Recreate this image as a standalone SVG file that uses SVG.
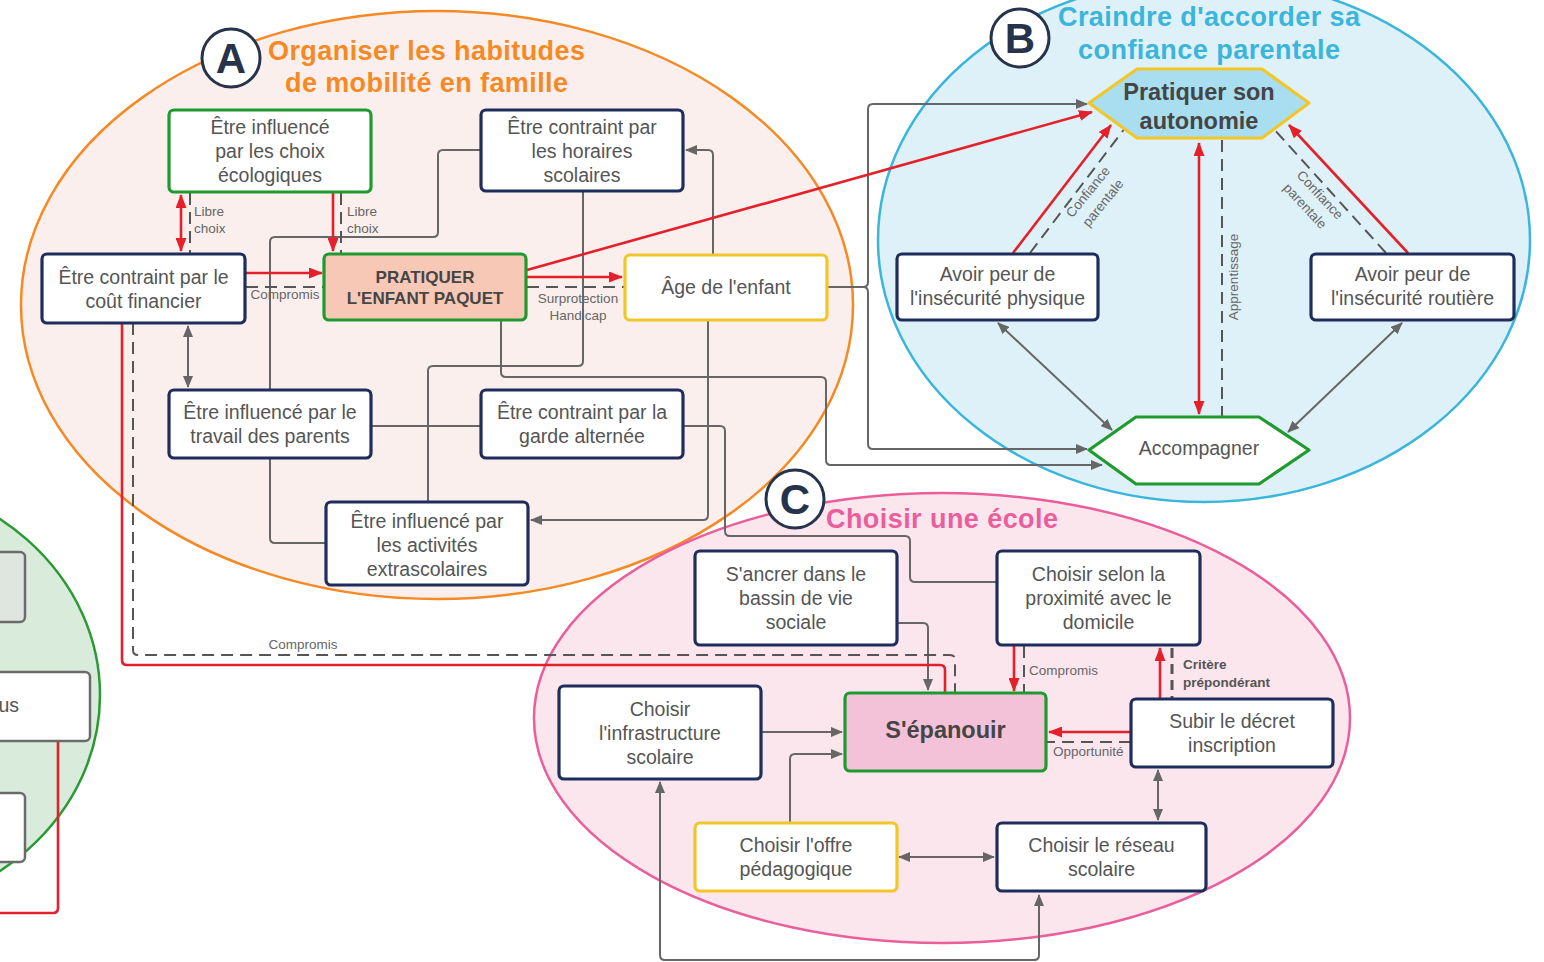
<svg xmlns="http://www.w3.org/2000/svg" width="1544" height="962" viewBox="0 0 1544 962">
<style>
.t{font-family:"Liberation Sans",Arial,sans-serif;font-size:19.5px;fill:#555;text-anchor:middle}
.hb{font-family:"Liberation Sans",Arial,sans-serif;font-weight:bold;fill:#454545;text-anchor:middle}
.ttl{font-family:"Liberation Sans",Arial,sans-serif;font-weight:bold;font-size:27px}
.let{font-family:"Liberation Sans",Arial,sans-serif;font-weight:bold;font-size:42px;fill:#27334a;text-anchor:middle}
.lbl{font-family:"Liberation Sans",Arial,sans-serif;font-size:13.5px;fill:#666}
.box{stroke-width:3.2;fill:#fff}
.navy{stroke:#1f2d5c}
.green{stroke:#1e9a2e}
.yellow{stroke:#f2c629}
.gbox{stroke:#6b6b6b;stroke-width:2.5}
.red{stroke:#e4212b;stroke-width:2.6;fill:none}
.gray{stroke:#666;stroke-width:2;fill:none;stroke-linejoin:round}
.dash{stroke:#555;stroke-width:2;fill:none;stroke-dasharray:12 7}
.circ{fill:#fff;stroke:#27334a;stroke-width:3}
</style>
<defs>
<marker id="mg" viewBox="0 0 12 10" refX="11" refY="5" markerWidth="12" markerHeight="10" markerUnits="userSpaceOnUse" orient="auto-start-reverse"><path d="M0,0L12,5L0,10z" fill="#666"/></marker>
<marker id="mr" viewBox="0 0 14 11" refX="13" refY="5.5" markerWidth="14" markerHeight="11" markerUnits="userSpaceOnUse" orient="auto-start-reverse"><path d="M0,0L14,5.5L0,11z" fill="#e4212b"/></marker>
</defs>
<rect x="0" y="0" width="1544" height="962" fill="#fff"/>

<g id="regions">
<ellipse cx="-150" cy="695" rx="250" ry="220" fill="#d9ecdb" stroke="#2a9a35" stroke-width="2.5"/>
<ellipse cx="437" cy="305" rx="416" ry="294" fill="#fbefed" stroke="#f58a25" stroke-width="2.5"/>
<ellipse cx="942" cy="718" rx="408" ry="225" fill="#fce6ee" stroke="#ea5f9b" stroke-width="2.5"/>
<ellipse cx="1204" cy="240" rx="326" ry="262" fill="#dff1f8" stroke="#3ab5dc" stroke-width="2.5"/>
</g>

<g id="left-partial">
<rect x="-20" y="552" width="45" height="70" rx="5" fill="#dfe6df" class="gbox"/>
<rect x="-20" y="672" width="110" height="69" rx="5" fill="#fff" class="gbox"/>
<text class="t" x="19" y="712" style="text-anchor:end">us</text>
<rect x="-20" y="793" width="45" height="69" rx="5" fill="#fff" class="gbox"/>
<path class="red" d="M58,742 V908 Q58,913 53,913 H-5"/>
</g>

<g id="connectors">
<!-- gray -->
<path class="gray" d="M188,326 V387" marker-start="url(#mg)" marker-end="url(#mg)"/>
<path class="gray" d="M828,287 H863 Q868,287 868,282 V109 Q868,104 873,104 H1087" marker-end="url(#mg)"/>
<path class="gray" d="M863,287 Q868,287 868,292 V444 Q868,449 873,449 H1087" marker-end="url(#mg)"/>
<path class="gray" d="M501,320 V372 Q501,377 506,377 H821 Q826,377 826,382 V460 Q826,465 831,465 H1102" marker-end="url(#mg)"/>
<path class="gray" d="M481,150 H443 Q438,150 438,155 V232 Q438,237 433,237 H275 Q270,237 270,242 V390"/>
<path class="gray" d="M270,458 V538 Q270,543 275,543 H326"/>
<path class="gray" d="M583,191 V361 Q583,366 578,366 H433 Q428,366 428,371 V502"/>
<path class="gray" d="M713,255 V155 Q713,150 708,150 H686" marker-end="url(#mg)"/>
<path class="gray" d="M708,320 V515 Q708,520 703,520 H531" marker-end="url(#mg)"/>
<path class="gray" d="M371,426 H481"/>
<path class="gray" d="M683,426 H720 Q725,426 725,431 V531 Q725,536 730,536 H905 Q910,536 910,541 V577 Q910,582 915,582 H997"/>
<path class="gray" d="M998,323 L1112,430" marker-start="url(#mg)" marker-end="url(#mg)"/>
<path class="gray" d="M1402,323 L1288,432" marker-start="url(#mg)" marker-end="url(#mg)"/>
<path class="gray" d="M897,623 H923 Q928,623 928,628 V690" marker-end="url(#mg)"/>
<path class="gray" d="M761,732 H842" marker-end="url(#mg)"/>
<path class="gray" d="M790,823 V759 Q790,754 795,754 H842" marker-end="url(#mg)"/>
<path class="gray" d="M899,857 H994" marker-start="url(#mg)" marker-end="url(#mg)"/>
<path class="gray" d="M1158,770 V820" marker-start="url(#mg)" marker-end="url(#mg)"/>
<path class="gray" d="M1039,895 V955 Q1039,960 1034,960 H665 Q660,960 660,955 V782" marker-start="url(#mg)" marker-end="url(#mg)"/>
<!-- dashed -->
<path class="dash" d="M246,287 H324"/>
<path class="dash" d="M190,193 V254"/>
<path class="dash" d="M341,193 V254"/>
<path class="dash" d="M527,287 H625"/>
<path class="dash" d="M1030,253 L1125,128"/>
<path class="dash" d="M1386,253 L1273,128"/>
<path class="dash" d="M1222,140 V416"/>
<path class="dash" d="M133,323 V650 Q133,655 138,655 H950 Q955,655 955,660 V693"/>
<path class="dash" d="M1024,646 V693"/>
<path class="dash" d="M1172,648 V699" style="stroke-width:3;stroke-dasharray:10 6"/>
<path class="dash" d="M1131,742 H1047"/>
<!-- red -->
<path class="red" d="M246,273 H322" marker-end="url(#mr)"/>
<path class="red" d="M181,195 V251" marker-start="url(#mr)" marker-end="url(#mr)"/>
<path class="red" d="M333,193 V251" marker-end="url(#mr)"/>
<path class="red" d="M527,277 H622" marker-end="url(#mr)"/>
<path class="red" d="M527,270 L1092,112" marker-end="url(#mr)"/>
<path class="red" d="M1013,253 L1111,125" marker-end="url(#mr)"/>
<path class="red" d="M1408,253 L1289,125" marker-end="url(#mr)"/>
<path class="red" d="M1199,143 V414" marker-start="url(#mr)" marker-end="url(#mr)"/>
<path class="red" d="M122,323 V660 Q122,665 127,665 H940 Q945,665 945,670 V693"/>
<path class="red" d="M1014,646 V691" marker-end="url(#mr)"/>
<path class="red" d="M1160,698 V648" marker-end="url(#mr)"/>
<path class="red" d="M1130,732 H1049" marker-end="url(#mr)"/>
</g>

<g id="labels">
<text class="lbl" x="194" y="216">Libre</text>
<text class="lbl" x="194" y="233">choix</text>
<text class="lbl" x="347" y="216">Libre</text>
<text class="lbl" x="347" y="233">choix</text>
<text class="lbl" x="285" y="299" text-anchor="middle">Compromis</text>
<text class="lbl" x="578" y="303" text-anchor="middle">Surprotection</text>
<text class="lbl" x="578" y="320" text-anchor="middle">Handicap</text>
<text class="lbl" x="303" y="649" text-anchor="middle">Compromis</text>
<text class="lbl" transform="translate(1088,192) rotate(-51)" y="4.5" text-anchor="middle">Confiance</text>
<text class="lbl" transform="translate(1103,203) rotate(-51)" y="4.5" text-anchor="middle">parentale</text>
<text class="lbl" transform="translate(1320,195) rotate(47)" y="4.5" text-anchor="middle">Confiance</text>
<text class="lbl" transform="translate(1305,206) rotate(47)" y="4.5" text-anchor="middle">parentale</text>
<text class="lbl" transform="translate(1233,277) rotate(-90)" y="4.5" text-anchor="middle">Apprentissage</text>
<text class="lbl" x="1029" y="675">Compromis</text>
<text class="lbl" x="1183" y="669" style="font-weight:bold;fill:#555">Critère</text>
<text class="lbl" x="1183" y="687" style="font-weight:bold;fill:#555">prépondérant</text>
<text class="lbl" x="1053" y="756">Opportunité</text>
</g>

<g id="title-A">
<circle class="circ" cx="231" cy="58" r="29"/>
<text class="let" x="231" y="73">A</text>
<text class="ttl" x="268" y="60" fill="#f58a25" textLength="317">Organiser les habitudes</text>
<text class="ttl" x="285" y="92" fill="#f58a25" textLength="283">de mobilité en famille</text>
</g>
<g id="title-B">
<circle class="circ" cx="1020" cy="38" r="29"/>
<text class="let" x="1020" y="53">B</text>
<text class="ttl" x="1058" y="26" fill="#3ab5dc" textLength="302">Craindre d'accorder sa</text>
<text class="ttl" x="1078" y="59" fill="#3ab5dc" textLength="262">confiance parentale</text>
</g>
<g id="title-C">
<circle class="circ" cx="795" cy="499" r="29"/>
<text class="let" x="795" y="514">C</text>
<text class="ttl" x="826" y="528" fill="#ea5f9b" textLength="232">Choisir une école</text>
</g>

<g id="n-ecolo"><rect class="box green" x="169" y="110" width="202" height="82" rx="5"/>
<text class="t" x="270" y="134">Être influencé</text><text class="t" x="270" y="158">par les choix</text><text class="t" x="270" y="182">écologiques</text></g>
<g id="n-horaires"><rect class="box navy" x="481" y="110" width="202" height="81" rx="5"/>
<text class="t" x="582" y="134">Être contraint par</text><text class="t" x="582" y="158">les horaires</text><text class="t" x="582" y="182">scolaires</text></g>
<g id="n-cout"><rect class="box navy" x="42" y="254" width="203" height="69" rx="5"/>
<text class="t" x="143.5" y="283.5">Être contraint par le</text><text class="t" x="143.5" y="307.5">coût financier</text></g>
<g id="n-paquet"><rect class="box green" x="324" y="254" width="202" height="66" rx="5" style="fill:#f8c8b7"/>
<text class="hb" x="425" y="283" font-size="17">PRATIQUER</text><text class="hb" x="425" y="304" font-size="17">L'ENFANT PAQUET</text></g>
<g id="n-age"><rect class="box yellow" x="625" y="255" width="202" height="65" rx="5"/>
<text class="t" x="726" y="294">Âge de l'enfant</text></g>
<g id="n-travail"><rect class="box navy" x="169" y="390" width="202" height="68" rx="5"/>
<text class="t" x="270" y="419">Être influencé par le</text><text class="t" x="270" y="443">travail des parents</text></g>
<g id="n-garde"><rect class="box navy" x="481" y="390" width="202" height="68" rx="5"/>
<text class="t" x="582" y="419">Être contraint par la</text><text class="t" x="582" y="443">garde alternée</text></g>
<g id="n-activites"><rect class="box navy" x="326" y="502" width="202" height="83" rx="5"/>
<text class="t" x="427" y="527.5">Être influencé par</text><text class="t" x="427" y="551.5">les activités</text><text class="t" x="427" y="575.5">extrascolaires</text></g>

<g id="n-autonomie"><polygon points="1089,103 1137,69 1262,69 1309,103 1262,138 1137,138" fill="#a9def0" stroke="#f2c629" stroke-width="3.2" stroke-linejoin="round"/>
<text class="hb" x="1199" y="100" font-size="23.5">Pratiquer son</text><text class="hb" x="1199" y="129" font-size="23.5">autonomie</text></g>
<g id="n-accompagner"><polygon points="1089,450 1136,417 1259,417 1309,450 1259,484 1136,484" fill="#fff" stroke="#1e9a2e" stroke-width="3.2" stroke-linejoin="round"/>
<text class="t" x="1199" y="455">Accompagner</text></g>
<g id="n-physique"><rect class="box navy" x="897" y="254" width="201" height="66" rx="5"/>
<text class="t" x="997.5" y="281">Avoir peur de</text><text class="t" x="997.5" y="305">l'insécurité physique</text></g>
<g id="n-routiere"><rect class="box navy" x="1311" y="254" width="203" height="66" rx="5"/>
<text class="t" x="1412.5" y="281">Avoir peur de</text><text class="t" x="1412.5" y="305">l'insécurité routière</text></g>

<g id="n-ancrer"><rect class="box navy" x="695" y="551" width="202" height="94" rx="5"/>
<text class="t" x="796" y="581">S'ancrer dans le</text><text class="t" x="796" y="605">bassin de vie</text><text class="t" x="796" y="629">sociale</text></g>
<g id="n-proximite"><rect class="box navy" x="997" y="551" width="203" height="94" rx="5"/>
<text class="t" x="1098.5" y="581">Choisir selon la</text><text class="t" x="1098.5" y="605">proximité avec le</text><text class="t" x="1098.5" y="629">domicile</text></g>
<g id="n-infra"><rect class="box navy" x="559" y="686" width="202" height="93" rx="5"/>
<text class="t" x="660" y="715.5">Choisir</text><text class="t" x="660" y="739.5">l'infrastructure</text><text class="t" x="660" y="763.5">scolaire</text></g>
<g id="n-epanouir"><rect class="box green" x="845" y="693" width="201" height="78" rx="5" style="fill:#f4c2d8"/>
<text class="hb" x="945.5" y="738" font-size="23.5">S'épanouir</text></g>
<g id="n-decret"><rect class="box navy" x="1131" y="699" width="202" height="68" rx="5"/>
<text class="t" x="1232" y="728">Subir le décret</text><text class="t" x="1232" y="752">inscription</text></g>
<g id="n-offre"><rect class="box yellow" x="695" y="823" width="202" height="68" rx="5"/>
<text class="t" x="796" y="852">Choisir l'offre</text><text class="t" x="796" y="876">pédagogique</text></g>
<g id="n-reseau"><rect class="box navy" x="997" y="823" width="209" height="68" rx="5"/>
<text class="t" x="1101.5" y="852">Choisir le réseau</text><text class="t" x="1101.5" y="876">scolaire</text></g>
</svg>
